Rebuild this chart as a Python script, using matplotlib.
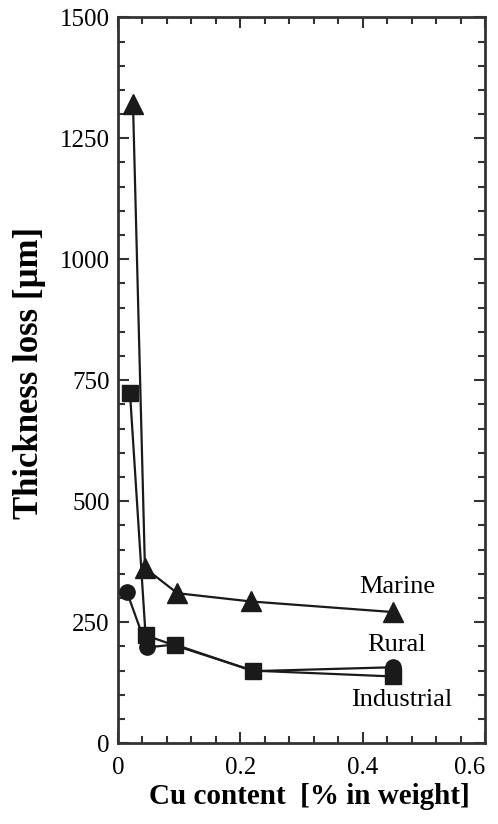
import matplotlib
matplotlib.use('Agg')
import matplotlib.pyplot as plt
from matplotlib.ticker import MultipleLocator

# data
marine_x = [0.0245, 0.044, 0.097, 0.217, 0.45]
marine_y = [1320, 362, 310, 293, 271]
rural_x = [0.0147, 0.047, 0.093, 0.221, 0.45]
rural_y = [312, 198, 204, 149, 157]
indus_x = [0.0196, 0.045, 0.093, 0.221, 0.45]
indus_y = [723, 223, 202, 150, 138]

plt.rcParams['font.family'] = ['Liberation Serif', 'DejaVu Serif']

fig = plt.figure(figsize=(4.98, 8.24), dpi=100)
ax = fig.add_axes([0.237, 0.098, 0.737, 0.881])

lc = '#1a1a1a'
ax.plot(marine_x, marine_y, '-^', color=lc, lw=1.6, ms=15, zorder=3)
ax.plot(rural_x, rural_y, '-o', color=lc, lw=1.6, ms=11, zorder=3)
ax.plot(indus_x, indus_y, '-s', color=lc, lw=1.6, ms=11, zorder=3)

ax.text(0.456, 322, 'Marine', ha='center', va='center', fontsize=19)
ax.text(0.456, 204, 'Rural', ha='center', va='center', fontsize=19)
ax.text(0.464, 89, 'Industrial', ha='center', va='center', fontsize=19)

ax.set_xlim(0, 0.6)
ax.set_ylim(0, 1500)
ax.set_xticks([0, 0.2, 0.4, 0.6])
ax.set_xticklabels(['0', '0.2', '0.4', '0.6'])
ax.set_yticks([0, 250, 500, 750, 1000, 1250, 1500])
ax.xaxis.set_minor_locator(MultipleLocator(0.04))
ax.yaxis.set_minor_locator(MultipleLocator(50))
ax.tick_params(which='both', direction='in', top=True, right=True,
               labelsize=18, width=1.5, color='#333333')
ax.tick_params(which='major', length=8)
ax.tick_params(which='minor', length=5)
ax.tick_params(axis='x', pad=10)
ax.tick_params(axis='y', pad=6)
for s in ax.spines.values():
    s.set_linewidth(2)
    s.set_color('#333333')
# last x tick label sits slightly left so it stays inside the figure
ax.get_xticklabels()[-1].set_horizontalalignment('right')
ax.get_xticklabels()[-1].set_x(0.612)

ax.set_xlabel('Cu content  [% in weight]', fontsize=21, fontweight='bold', va='center')
ax.set_ylabel('Thickness loss [µm]', fontsize=25, fontweight='bold', va='center')
ax.xaxis.set_label_coords(0.52, -0.074)
ax.yaxis.set_label_coords(-0.24, 0.51)

fig.savefig('out.png', dpi=100)
